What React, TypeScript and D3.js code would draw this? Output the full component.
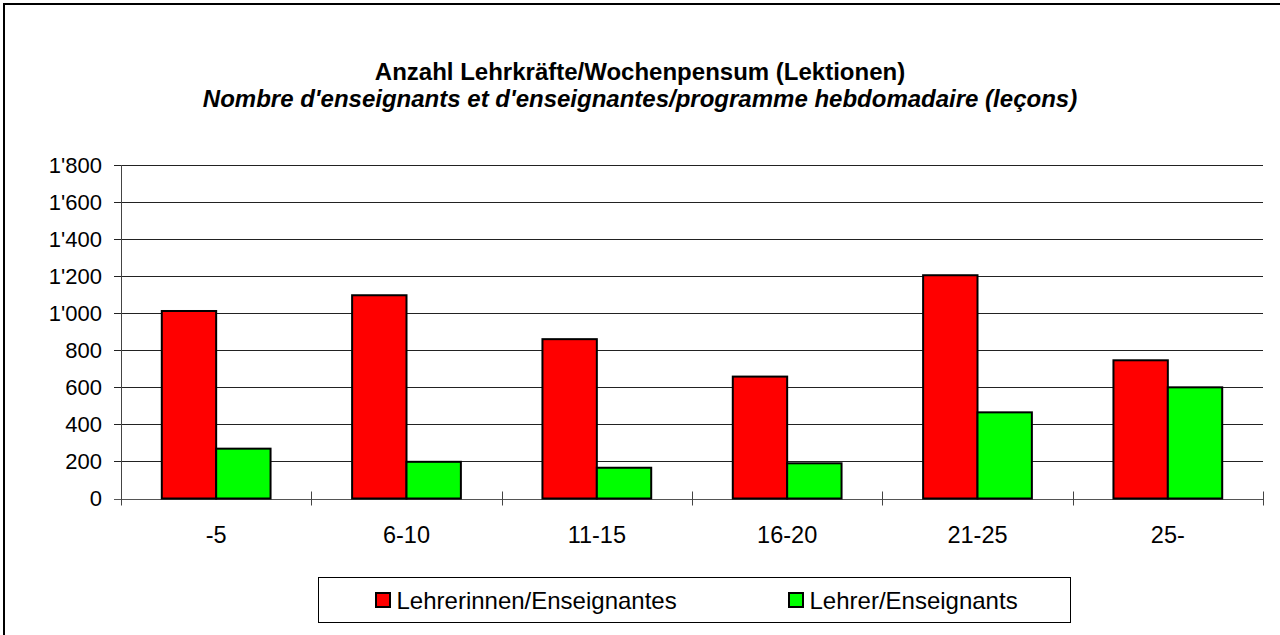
import React from "react";
import * as d3 from "d3";

const categories = ["-5", "6-10", "11-15", "16-20", "21-25", "25-"];
const seriesNames = ["Lehrerinnen/Enseignantes", "Lehrer/Enseignants"];
const femaleValues = [1012, 1097, 860, 658, 1205, 746];
const maleValues = [269, 198, 166, 190, 465, 600];
const yTicks = [0, 200, 400, 600, 800, 1000, 1200, 1400, 1600, 1800];
const colors = ["#ff0000", "#00ff00"];
const titleLine1 = "Anzahl Lehrkräfte/Wochenpensum (Lektionen)";
const titleLine2 = "Nombre d'enseignants et d'enseignantes/programme hebdomadaire (leçons)";

const W = 1280;
const H = 635;
const left = 121;
const right = 1263;
const top = 165;
const bottom = 498.5;
const font = "'Liberation Sans', Arial, Helvetica, sans-serif";

const fmt = (v: number) => {
  const s = String(v);
  return s.length > 3 ? s.slice(0, s.length - 3) + "'" + s.slice(-3) : s;
};

export default function App() {
  const x = d3.scaleBand<string>().domain(categories).range([left, right]).paddingInner(0).paddingOuter(0);
  const y = d3.scaleLinear().domain([0, 1800]).range([bottom, top]);
  const step = x.bandwidth();
  const barW = step / 3.5;
  const series = [femaleValues, maleValues];
  const tickEdges = d3.range(categories.length + 1).map((i) => left + i * step);

  return (
    <svg width={W} height={H} style={{ position: "absolute", left: 0, top: 0, background: "#fff" }}>
      <rect x={4} y={4} width={W + 20} height={H + 20} fill="#fff" stroke="#000" strokeWidth={2} />
      <text x={640} y={80} textAnchor="middle" fontFamily={font} fontWeight="bold" fontSize={24}>
        {titleLine1}
      </text>
      <text x={640} y={107} textAnchor="middle" fontFamily={font} fontWeight="bold" fontStyle="italic" fontSize={24}>
        {titleLine2}
      </text>
      {yTicks.map((t) => (
        <g key={t}>
          <line x1={left - 7} x2={right} y1={Math.round(y(t)) + 0.5} y2={Math.round(y(t)) + 0.5} stroke={t === 0 ? "#555" : "#222"} strokeWidth={1} />
          <text x={102} y={y(t)} dy="0.36em" textAnchor="end" fontFamily={font} fontSize={22}>
            {fmt(t)}
          </text>
        </g>
      ))}
      <line x1={left + 0.5} x2={left + 0.5} y1={top} y2={bottom} stroke="#444" strokeWidth={1} />
      {tickEdges.map((tx, i) => (
        <line key={i} x1={Math.round(tx) + 0.5} x2={Math.round(tx) + 0.5} y1={bottom - 7} y2={bottom + 7} stroke="#444" strokeWidth={1} />
      ))}
      {categories.map((c, ci) => {
        const x0 = (x(c) as number) + step / 2 - barW;
        return (
          <g key={c}>
            {series.map((vals, si) => (
              <rect
                key={si}
                x={x0 + si * barW}
                y={y(vals[ci])}
                width={barW}
                height={bottom - y(vals[ci])}
                fill={colors[si]}
                stroke="#000"
                strokeWidth={2}
              />
            ))}
            <text x={(x(c) as number) + step / 2} y={542.5} textAnchor="middle" fontFamily={font} fontSize={23.5}>
              {c}
            </text>
          </g>
        );
      })}
      <rect x={318.5} y={577.5} width={752} height={45} fill="#fff" stroke="#000" strokeWidth={1} />
      {seriesNames.map((n, i) => {
        const lx = i === 0 ? 376 : 789;
        return (
          <g key={n}>
            <rect x={lx} y={593} width={14} height={14} fill={colors[i]} stroke="#000" strokeWidth={2} />
            <text x={lx + 20.5} y={608.5} fontFamily={font} fontSize={24}>
              {n}
            </text>
          </g>
        );
      })}
    </svg>
  );
}
